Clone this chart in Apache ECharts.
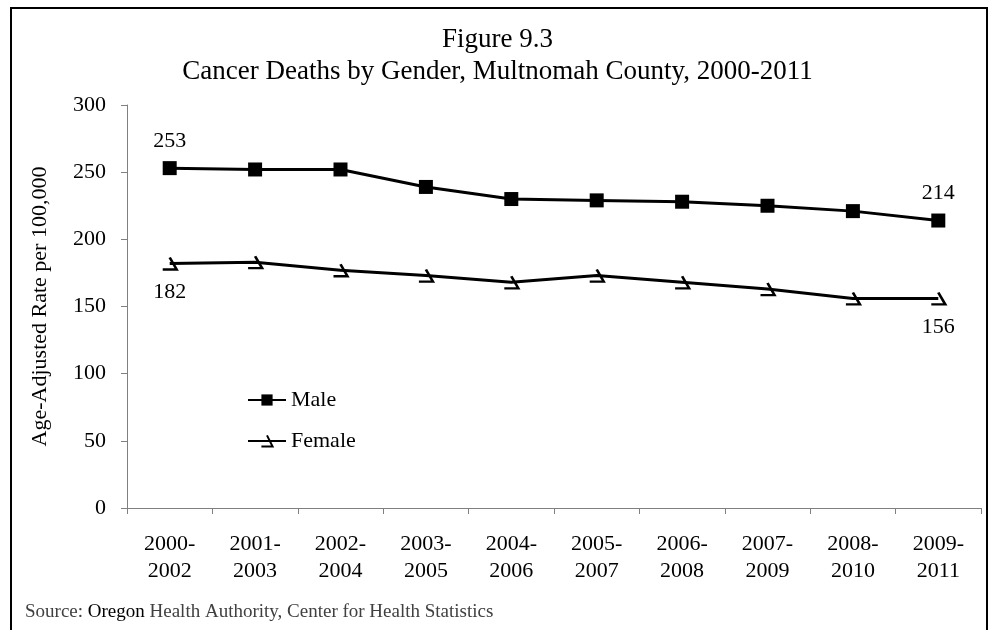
<!DOCTYPE html>
<html>
<head>
<meta charset="utf-8">
<script src="https://cdn.jsdelivr.net/npm/echarts@6/dist/echarts.min.js"></script>
<style>
  html, body { margin: 0; padding: 0; background: #fff; }
  #chart { width: 995px; height: 630px; }
</style>
</head>
<body>
<div id="chart"></div>
<script>
const periods = ['2000-\n2002', '2001-\n2003', '2002-\n2004', '2003-\n2005', '2004-\n2006',
  '2005-\n2007', '2006-\n2008', '2007-\n2009', '2008-\n2010', '2009-\n2011'];
const maleRates = [253, 252, 252, 239, 230, 229, 228, 225, 221, 214];
const femaleRates = [182, 183, 177, 173, 168, 173, 168, 163, 156, 156];
const yTicks = [0, 50, 100, 150, 200, 250, 300];

const serif = "'Liberation Serif', 'Times New Roman', serif";
// marcador tipo "guion" de Excel
const femaleMarker = 'path://M0,12 L14,12 L7,0';

// solo etiquetamos el primer y el último punto
function endLabels(values, position) {
  return values.map((v, i) => ({
    value: v,
    label: {
      show: i === 0 || i === values.length - 1,
      position: position,
      distance: 9,
      color: '#000',
      fontFamily: serif,
      fontSize: 22
    }
  }));
}

const chart = echarts.init(document.getElementById('chart'));

chart.setOption({
  backgroundColor: '#fff',
  animation: false,
  title: {
    text: 'Figure 9.3\nCancer Deaths by Gender, Multnomah County, 2000-2011',
    left: 'center',
    top: 19,
    textStyle: {
      fontFamily: serif,
      fontWeight: 'normal',
      fontSize: 27,
      lineHeight: 32,
      color: '#000'
    }
  },
  legend: {
    orient: 'vertical',
    left: 247,
    top: 388,
    padding: 0,
    itemWidth: 38,
    itemHeight: 14,
    itemGap: 17,
    textStyle: { fontFamily: serif, fontSize: 22, lineHeight: 24, color: '#000' },
    data: ['Male', 'Female']
  },
  grid: { left: 127, right: 14, top: 105, bottom: 122 },
  xAxis: {
    type: 'category',
    data: periods,
    boundaryGap: true,
    axisLine: { lineStyle: { color: '#808080', width: 1 } },
    axisTick: { show: true, length: 6, lineStyle: { color: '#808080' } },
    axisLabel: {
      color: '#000',
      fontFamily: serif,
      fontSize: 22,
      lineHeight: 27,
      margin: 23
    }
  },
  yAxis: {
    type: 'value',
    min: yTicks[0],
    max: yTicks[yTicks.length - 1],
    interval: 50,
    name: 'Age-Adjusted Rate per 100,000',
    nameLocation: 'middle',
    nameGap: 76,
    nameTextStyle: { fontFamily: serif, fontSize: 22, color: '#000' },
    axisLine: { show: true, lineStyle: { color: '#808080', width: 1 } },
    axisTick: { show: true, length: 6, lineStyle: { color: '#808080' } },
    splitLine: { show: false },
    axisLabel: { color: '#000', fontFamily: serif, fontSize: 22, margin: 21 }
  },
  series: [
    {
      name: 'Male',
      type: 'line',
      data: endLabels(maleRates, 'top'),
      symbol: 'rect',
      symbolSize: 14,
      lineStyle: { color: '#000', width: 3 },
      itemStyle: { color: '#000' }
    },
    {
      name: 'Female',
      type: 'line',
      data: endLabels(femaleRates, 'bottom'),
      symbol: femaleMarker,
      symbolSize: [14, 12],
      lineStyle: { color: '#000', width: 3 },
      itemStyle: { color: 'none', borderColor: '#000', borderWidth: 2.5 }
    }
  ],
  graphic: [
    {
      type: 'rect',
      shape: { x: 11, y: 8, width: 976, height: 700 },
      style: { fill: 'none', stroke: '#000', lineWidth: 2 },
      silent: true
    },
    {
      type: 'text',
      left: 25,
      top: 603,
      style: {
        text: '{g|Source: }{b|Oregon}{g| Health Authority, Center for Health Statistics}',
        rich: {
          g: { fontFamily: serif, fontSize: 19, fill: '#404040' },
          b: { fontFamily: serif, fontSize: 19, fill: '#000' }
        }
      }
    }
  ]
});
</script>
</body>
</html>
